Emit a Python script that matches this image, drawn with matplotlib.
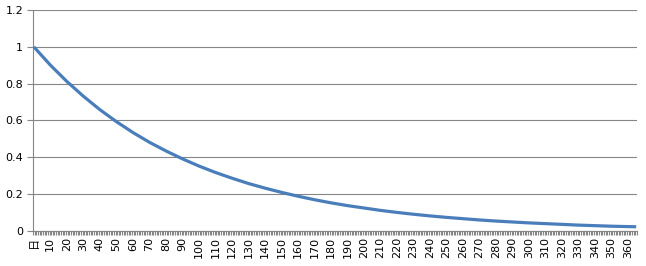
import matplotlib
matplotlib.use("Agg")
import matplotlib.pyplot as plt
import numpy as np

plt.rcParams['font.family'] = ['DejaVu Sans', 'Noto Sans CJK SC']

days = [0, 10, 20, 30, 40, 50, 60, 70, 80, 90, 100, 110, 120, 130, 140, 150,
        160, 170, 180, 190, 200, 210, 220, 230, 240, 250, 260, 270, 280, 290,
        300, 310, 320, 330, 340, 350, 360, 365]
values = [1.0, 0.901, 0.812, 0.732, 0.659, 0.594, 0.535, 0.482, 0.435, 0.392,
          0.353, 0.318, 0.287, 0.258, 0.233, 0.210, 0.189, 0.170, 0.153, 0.138,
          0.125, 0.112, 0.101, 0.091, 0.082, 0.074, 0.067, 0.060, 0.054, 0.049,
          0.044, 0.040, 0.036, 0.032, 0.029, 0.026, 0.024, 0.023]
n_categories = 366
label_positions = list(range(0, 361, 10))
tick_labels = ['日'] + [str(v) for v in range(10, 361, 10)]
y_ticks = [0, 0.2, 0.4, 0.6, 0.8, 1.0, 1.2]
y_labels = ['0', '0.2', '0.4', '0.6', '0.8', '1', '1.2']

fig = plt.figure(figsize=(6.46, 2.66), dpi=100)
ax = fig.add_axes([33/646, 1 - 231/266, (637 - 33)/646, (231 - 10)/266])

ax.plot(days, values, color='#4A7EBB', lw=2.3, solid_capstyle='butt', zorder=3)

ax.set_xlim(-0.5, n_categories - 0.5)
ax.set_ylim(0, 1.2)
ax.set_yticks(y_ticks)
ax.set_yticklabels(y_labels, fontsize=8)
ax.yaxis.grid(True, color='#868686', lw=0.8)
ax.set_axisbelow(True)

ax.set_xticks(label_positions)
ax.set_xticklabels(tick_labels, rotation=90, fontsize=8)
ax.set_xticks(np.arange(-0.5, n_categories, 1), minor=True)
ax.tick_params(axis='x', which='major', length=0, pad=4)
ax.tick_params(axis='x', which='minor', length=3, width=0.8, color='#868686')
ax.tick_params(axis='y', length=4, width=0.8, color='#868686', pad=3)

for s in ['top', 'right']:
    ax.spines[s].set_visible(False)
for s in ['left', 'bottom']:
    ax.spines[s].set_color('#868686')
    ax.spines[s].set_linewidth(0.8)

fig.savefig('out.png', dpi=100)
